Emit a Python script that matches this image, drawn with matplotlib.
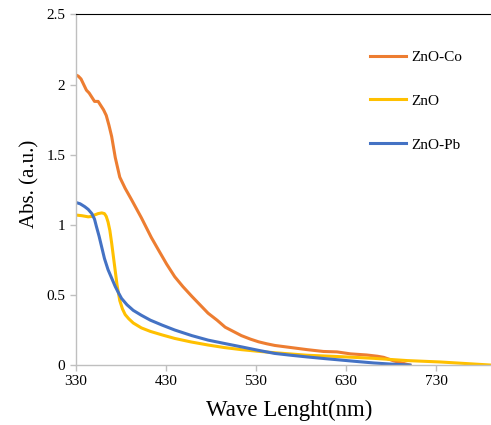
import matplotlib.pyplot as plt

# data
co_x = [330, 333, 336, 339, 342, 345, 348, 351, 355, 358, 361, 364, 367, 370, 374, 379, 385, 392, 403, 414,
        422, 431, 440, 449, 459, 468, 477, 487, 496, 505, 514, 524, 533, 542, 551, 569, 587, 605, 620, 635, 653, 665, 672, 683, 701]
co_y = [2.07, 2.06, 2.04, 2.0, 1.96, 1.94, 1.91, 1.88, 1.88, 1.85, 1.82, 1.78, 1.71, 1.63, 1.48, 1.34, 1.26, 1.18, 1.05, 0.91,
        0.82, 0.72, 0.63, 0.56, 0.49, 0.43, 0.37, 0.32, 0.27, 0.24, 0.21, 0.185, 0.166, 0.152, 0.14, 0.125, 0.11, 0.097, 0.094, 0.08, 0.072, 0.063, 0.055, 0.03, 0.0]

zno_x = [330, 337, 344, 348, 351, 355, 359, 362, 364, 366, 368, 370, 372, 374, 376, 379, 382, 385, 389, 394,
         403, 413, 426, 440, 458, 477, 495, 514, 533, 551, 587, 624, 661, 698, 735, 791]
zno_y = [1.07, 1.065, 1.057, 1.06, 1.07, 1.08, 1.085, 1.08, 1.06, 1.02, 0.96, 0.87, 0.77, 0.67, 0.57, 0.46, 0.40, 0.36, 0.33, 0.30,
         0.265, 0.24, 0.215, 0.19, 0.165, 0.143, 0.125, 0.11, 0.098, 0.088, 0.07, 0.06, 0.048, 0.032, 0.022, 0.0]

pb_x = [330, 335, 340, 344, 348, 351, 353, 356, 359, 362, 366, 370, 374, 378, 381, 387, 394, 403, 413, 426,
        440, 459, 477, 496, 514, 533, 551, 569, 587, 605, 624, 643, 661, 680, 701]
pb_y = [1.16, 1.15, 1.13, 1.11, 1.08, 1.04, 0.99, 0.92, 0.84, 0.76, 0.68, 0.62, 0.56, 0.51, 0.475, 0.43, 0.39, 0.355, 0.32, 0.285,
        0.25, 0.21, 0.178, 0.153, 0.13, 0.105, 0.083, 0.07, 0.058, 0.047, 0.036, 0.025, 0.015, 0.007, 0.0]

plt.rcParams['font.family'] = ['Liberation Serif', 'DejaVu Serif']

fig = plt.figure(figsize=(4.91, 4.25), dpi=100)
ax = fig.add_axes([0.154, 0.141, 0.846, 0.825])

ax.plot(co_x, co_y, color='#ED7D31', lw=2.2, label='ZnO-Co')
ax.plot(zno_x, zno_y, color='#FFC000', lw=2.2, label='ZnO')
ax.plot(pb_x, pb_y, color='#4472C4', lw=2.2, label='ZnO-Pb')

ax.set_xlim(330, 791)
ax.set_ylim(0, 2.5)
ax.set_xticks([330, 430, 530, 630, 730])
ax.set_yticks([0, 0.5, 1, 1.5, 2, 2.5])
ax.set_yticklabels(['0', '0.5', '1', '1.5', '2', '2.5'])

ax.spines['right'].set_visible(False)
ax.spines['top'].set_color('black')
ax.spines['top'].set_linewidth(0.8)
for s in ['left', 'bottom']:
    ax.spines[s].set_color('#BFBFBF')
    ax.spines[s].set_linewidth(1.0)
ax.tick_params(axis='both', colors='#BFBFBF', labelcolor='black', labelsize=11, length=4, width=1)

ax.set_xlabel('Wave Lenght(nm)', fontsize=16.5)
ax.xaxis.set_label_coords(0.515, -0.098)
ax.set_ylabel('Abs. (a.u.)', fontsize=15)
ax.yaxis.set_label_coords(-0.088, 0.516)

ax.legend(loc='upper left', bbox_to_anchor=(0.675, 0.937), frameon=False, fontsize=11,
          labelspacing=1.97, handlelength=2.4, handletextpad=0.3)

plt.savefig('out.png')
